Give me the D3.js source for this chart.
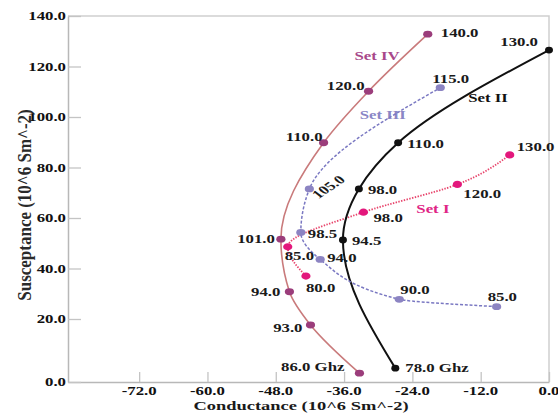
<!DOCTYPE html>
<html>
<head>
<meta charset="utf-8">
<script src="https://cdn.jsdelivr.net/npm/d3@7"></script>
<style>
  html, body { margin: 0; padding: 0; background: #fff; }
  svg { display: block; }
  text { font-family: "Liberation Serif", "Times New Roman", serif; font-weight: bold; }
</style>
</head>
<body>
<script>
// Admittance loci: conductance G vs susceptance B, labelled by frequency (GHz)
const setI_freq = [80, 85, 98, 120, 130];
const setI_G    = [-42.7, -45.9, -32.6, -16.1, -6.9];
const setI_B    = [37.0, 48.6, 62.3, 73.3, 85.0];

const setII_freq = [78, 94.5, 98, 110, 130];
const setII_G    = [-27.0, -36.2, -33.4, -26.5, 0.0];
const setII_B    = [4.4, 51.3, 71.5, 89.8, 126.5];

const setIII_freq = [85, 90, 94, 98.5, 105, 115];
const setIII_G    = [-9.2, -26.3, -40.2, -43.6, -42.1, -19.1];
const setIII_B    = [24.9, 27.8, 43.6, 54.3, 71.5, 111.6];

const setIV_freq = [86, 93, 94, 101, 110, 120, 140];
const setIV_G    = [-33.3, -41.9, -45.6, -47.1, -39.6, -31.7, -21.3];
const setIV_B    = [2.8, 18.1, 30.8, 51.6, 89.8, 110.2, 132.8];

const xTicks = [-72, -60, -48, -36, -24, -12, 0];
const yTicks = [0, 20, 40, 60, 80, 100, 120, 140];

const xTitle = "Conductance (10^6 Sm^-2)";
const yTitle = "Susceptance (10^6 Sm^-2)";

// series name annotations, in data units
const seriesNames = ["Set I", "Set II", "Set III", "Set IV"];
const nameG = [-20.4, -10.7, -29.2, -30.2];
const nameB = [63.6, 107.5, 100.8, 124.2];

// series whose first point carries the unit
const unitOnFirst = ["Set II", "Set IV"];

// ---- layout / styling ----
const W = 558, H = 417;
const plotL = 68, plotR = 549, plotT = 16, plotB = 382;
const SX = 1.4; // horizontal stretch of the serif lettering

const styles = {
  "Set I":   { line: "#e8456c", width: 1.8, dash: "1.4,1.4", marker: "#e3177c", name: "#e02686", rx: 4.6, ry: 3.6 },
  "Set II":  { line: "#111111", width: 2.0, dash: null,      marker: "#111111", name: "#111111", rx: 4.0, ry: 3.4 },
  "Set III": { line: "#7a78c2", width: 1.5, dash: "3,1.8",   marker: "#8c84c2", name: "#8a86c6", rx: 4.6, ry: 3.4 },
  "Set IV":  { line: "#c97a7b", width: 1.6, dash: null,      marker: "#9b3d7b", name: "#a8478a", rx: 4.6, ry: 3.4 }
};

// per-point label offsets [dx, dy, anchor, rotation]
const labelPlacement = {
  "Set I":   [[0, 12, "start"], [-3, 9, "start"], [10, 6, "start"], [6, 9, "start"], [7, -8, "start"]],
  "Set II":  [[10, 0, "start"], [9, 1, "start"], [9, 1, "start"], [9, 1, "start"], [-11, -8, "end"]],
  "Set III": [[-9, -10, "start"], [1, -9, "start"], [7, -2, "start"], [7, 1, "start"], [19, -2, "middle", -43], [-8, -9, "start"]],
  "Set IV":  [[-15, -6, "end"], [-8, 3, "end"], [-9, 0, "end"], [-6, 0, "end"], [-1, -6, "end"], [-4, -5, "end"], [13, -1, "start"]]
};

const series = [
  { name: "Set I",   freq: setI_freq,   G: setI_G,   B: setI_B },
  { name: "Set II",  freq: setII_freq,  G: setII_G,  B: setII_B },
  { name: "Set III", freq: setIII_freq, G: setIII_G, B: setIII_B },
  { name: "Set IV",  freq: setIV_freq,  G: setIV_G,  B: setIV_B }
];

const x = d3.scaleLinear().domain([-84.5, 0]).range([plotL, plotR]);
// the lowest major interval of the susceptance axis is drawn taller than the rest
const y = d3.scaleLinear().domain([0, 20, 140]).range([plotB, 319, plotT]);

const svg = d3.select("body").append("svg")
  .attr("width", W).attr("height", H);

svg.append("rect").attr("width", W).attr("height", H).attr("fill", "#fff");

// stretched text helper
function stext(g, px, py, str, opt) {
  opt = opt || {};
  const sx = opt.sx || SX;
  return g.append("text")
    .attr("transform", `translate(${px},${py}) scale(${sx},1)` + (opt.rotate ? ` rotate(${opt.rotate})` : ""))
    .attr("text-anchor", opt.anchor || "start")
    .attr("dominant-baseline", opt.baseline || "central")
    .attr("font-size", opt.size || 12)
    .attr("fill", opt.fill || "#1a1a1a")
    .text(str);
}

// frame (top and right)
svg.append("path")
  .attr("d", `M${plotL},${plotT}H${plotR}V${plotB}`)
  .attr("fill", "none").attr("stroke", "#cfcfcf").attr("stroke-width", 1.5);

// axes with inward ticks
const xAxis = svg.append("g").attr("transform", `translate(0,${plotB})`)
  .call(d3.axisBottom(x).tickValues(xTicks).tickSize(-10).tickSizeOuter(0).tickFormat(""));
const yAxis = svg.append("g").attr("transform", `translate(${plotL},0)`)
  .call(d3.axisLeft(y).tickValues(yTicks).tickSize(-13).tickSizeOuter(0).tickFormat(""));
[xAxis, yAxis].forEach(a => {
  a.select(".domain").attr("stroke", "#b8b8b8").attr("stroke-width", 1.5);
  a.selectAll(".tick line").attr("stroke", "#c4c4c4").attr("stroke-width", 1.3);
});

const labels = svg.append("g");
xTicks.forEach(v => stext(labels, x(v), 391, v.toFixed(1), { anchor: "middle", fill: "#111" }));
yTicks.forEach(v => stext(labels, 66, y(v), v.toFixed(1), { anchor: "end", fill: "#111" }));

// axis titles
stext(labels, 301, 410, xTitle, { anchor: "middle", baseline: "alphabetic", size: 13, sx: 1.42 });
stext(labels, 31, 205, yTitle, { anchor: "middle", baseline: "alphabetic", size: 17, sx: 1.15, rotate: -90, fill: "#2a2a2a" });

// series names (sit beneath the curves)
const names = svg.append("g");
seriesNames.forEach((n, i) => {
  stext(names, x(nameG[i]), y(nameB[i]), n, { anchor: "middle", fill: styles[n].name });
});

// curves
const line = d3.line()
  .x(d => x(d.G))
  .y(d => y(d.B))
  .curve(d3.curveMonotoneY);

const plot = svg.append("g");
series.forEach(s => {
  const st = styles[s.name];
  const pts = s.freq.map((f, i) => ({ f, G: s.G[i], B: s.B[i] }));
  plot.append("path")
    .datum(pts)
    .attr("d", line)
    .attr("fill", "none")
    .attr("stroke", st.line)
    .attr("stroke-width", st.width)
    .attr("stroke-dasharray", st.dash);
});

// markers and frequency labels
series.forEach(s => {
  const st = styles[s.name];
  const pts = s.freq.map((f, i) => ({ f, G: s.G[i], B: s.B[i] }));
  plot.selectAll(null).data(pts).enter().append("ellipse")
    .attr("cx", d => x(d.G)).attr("cy", d => y(d.B))
    .attr("rx", st.rx).attr("ry", st.ry)
    .attr("fill", st.marker);
  pts.forEach((d, i) => {
    const p = labelPlacement[s.name][i];
    const unit = (i === 0 && unitOnFirst.includes(s.name)) ? " Ghz" : "";
    stext(plot, x(d.G) + p[0], y(d.B) + p[1], d.f.toFixed(1) + unit, { anchor: p[2], rotate: p[3] });
  });
});
</script>
</body>
</html>
